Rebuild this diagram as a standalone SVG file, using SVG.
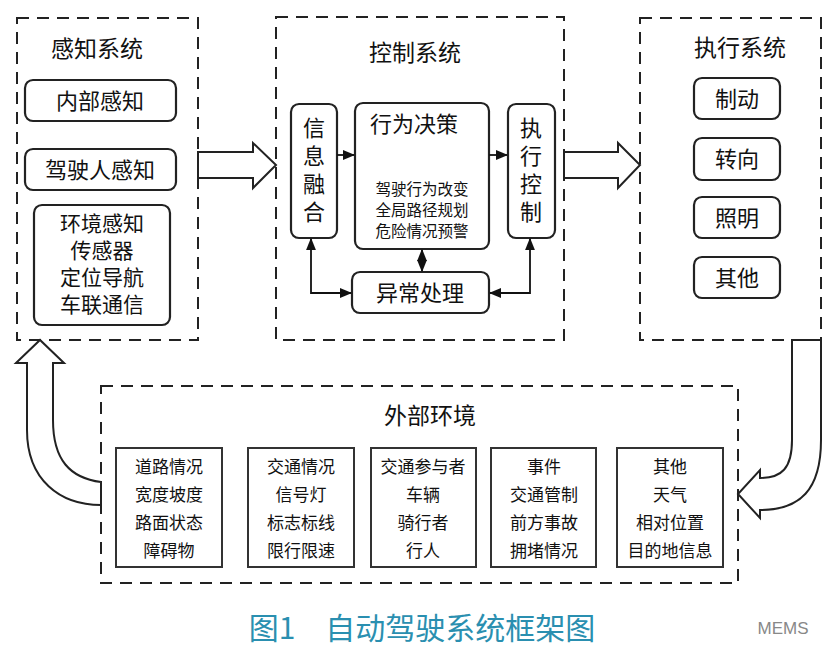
<svg xmlns="http://www.w3.org/2000/svg" width="836" height="659" viewBox="0 0 836 659">
<defs>
<marker id="ah" viewBox="0 0 10 10" refX="9" refY="5" markerWidth="7" markerHeight="7" orient="auto-start-reverse"><path d="M0,1 L10,5 L0,9 z" fill="#111"/></marker>
<style>
.dash{fill:none;stroke:#222;stroke-width:2;stroke-dasharray:12,8}
.rb{fill:#fff;stroke:#222;stroke-width:2.2}
.sb{fill:#fff;stroke:#333;stroke-width:2}
text{font-family:"Noto Sans CJK SC",sans-serif;fill:#111;text-anchor:middle}
.t{font-size:23px}
.n{font-size:22px}
.m{font-size:21px}
.s{font-size:15.5px}
.e{font-size:17px}
.ln{fill:none;stroke:#111;stroke-width:1.8}
.big{fill:#fff;stroke:#222;stroke-width:2}
</style>
</defs>
<rect width="836" height="659" fill="#fff"/>
<g id="perception">
<rect class="dash" x="17" y="18" width="181" height="322"/>
<text class="t" x="97" y="57">感知系统</text>
<g id="n-internal"><rect class="rb" x="25" y="80" width="151" height="41" rx="8"/><text class="n" x="100" y="109">内部感知</text></g>
<g id="n-driver"><rect class="rb" x="25" y="149" width="151" height="41" rx="8"/><text class="n" x="100" y="178">驾驶人感知</text></g>
<g id="n-env"><rect class="rb" x="34" y="205" width="136" height="120" rx="8"/>
<text class="m" x="102" y="231">环境感知</text><text class="m" x="102" y="258">传感器</text><text class="m" x="102" y="285">定位导航</text><text class="m" x="102" y="312">车联通信</text></g>
</g>
<g id="control">
<rect class="dash" x="276" y="17" width="288" height="323"/>
<text class="t" x="415" y="61">控制系统</text>
<g id="n-fusion"><rect class="rb" x="291" y="104" width="46" height="134" rx="8"/>
<text class="n" x="314" y="136">信</text><text class="n" x="314" y="164">息</text><text class="n" x="314" y="192">融</text><text class="n" x="314" y="220">合</text></g>
<g id="n-decision"><rect class="rb" x="355" y="103" width="134" height="146" rx="8"/>
<text class="n" x="414" y="132">行为决策</text>
<text class="s" x="422" y="195">驾驶行为改变</text><text class="s" x="422" y="216">全局路径规划</text><text class="s" x="422" y="237">危险情况预警</text></g>
<g id="n-exec"><rect class="rb" x="508" y="104" width="47" height="134" rx="8"/>
<text class="n" x="531" y="136">执</text><text class="n" x="531" y="164">行</text><text class="n" x="531" y="192">控</text><text class="n" x="531" y="220">制</text></g>
<g id="n-exception"><rect class="rb" x="352" y="272" width="137" height="41" rx="8"/><text class="n" x="420" y="301">异常处理</text></g>
</g>
<g id="execution">
<rect class="dash" x="640" y="18" width="181" height="322"/>
<text class="t" x="740" y="56">执行系统</text>
<g id="n-brake"><rect class="rb" x="694" y="78" width="86" height="41" rx="8"/><text class="n" x="737" y="107">制动</text></g>
<g id="n-steer"><rect class="rb" x="694" y="138" width="86" height="42" rx="8"/><text class="n" x="737" y="167">转向</text></g>
<g id="n-light"><rect class="rb" x="694" y="197" width="86" height="41" rx="8"/><text class="n" x="737" y="226">照明</text></g>
<g id="n-other"><rect class="rb" x="694" y="257" width="86" height="41" rx="8"/><text class="n" x="737" y="286">其他</text></g>
</g>
<g id="environment">
<rect class="dash" x="101" y="386" width="637" height="197"/>
<text class="t" x="430" y="424">外部环境</text>
<g id="e1"><rect class="sb" x="116" y="448" width="106" height="119"/><text class="e" x="169" y="473">道路情况</text><text class="e" x="169" y="501">宽度坡度</text><text class="e" x="169" y="529">路面状态</text><text class="e" x="169" y="557">障碍物</text></g>
<g id="e2"><rect class="sb" x="248" y="448" width="106" height="119"/><text class="e" x="301" y="473">交通情况</text><text class="e" x="301" y="501">信号灯</text><text class="e" x="301" y="529">标志标线</text><text class="e" x="301" y="557">限行限速</text></g>
<g id="e3"><rect class="sb" x="371" y="448" width="105" height="119"/><text class="e" x="423" y="473">交通参与者</text><text class="e" x="423" y="501">车辆</text><text class="e" x="423" y="529">骑行者</text><text class="e" x="423" y="557">行人</text></g>
<g id="e4"><rect class="sb" x="491" y="448" width="105" height="119"/><text class="e" x="544" y="473">事件</text><text class="e" x="544" y="501">交通管制</text><text class="e" x="544" y="529">前方事故</text><text class="e" x="544" y="557">拥堵情况</text></g>
<g id="e5"><rect class="sb" x="617" y="448" width="106" height="119"/><text class="e" x="670" y="473">其他</text><text class="e" x="670" y="501">天气</text><text class="e" x="670" y="529">相对位置</text><text class="e" x="670" y="557">目的地信息</text></g>
</g>
<g id="connectors">
<path class="big" d="M198,152 H253 V143 L276,165 L253,188 V178 H198 Z"/>
<path class="big" d="M564,152 H618 V143 L640,165 L618,188 V178 H564 Z"/>
<line class="ln" x1="337" y1="155" x2="354" y2="155" marker-end="url(#ah)"/>
<line class="ln" x1="489" y1="155" x2="507" y2="155" marker-end="url(#ah)"/>
<line class="ln" x1="422" y1="250" x2="422" y2="271" marker-start="url(#ah)" marker-end="url(#ah)"/>
<path class="ln" d="M311,239 V293 H351" marker-start="url(#ah)" marker-end="url(#ah)"/>
<path class="ln" d="M530,239 V293 H490" marker-start="url(#ah)" marker-end="url(#ah)"/>
<path class="big" d="M101,482 C70,478 53,460 53,420 V363 H64 L40,340 L16,363 H27 V430 C27,480 60,505 101,505 Z"/>
<path class="big" d="M792,340 V440 C792,468 782,478 760,478 V470 L738,494 L760,518 V510 C800,510 821,490 821,440 V340 Z"/>
</g>
<text x="422" y="639" style="font-size:30px;fill:#2a8fb0" xml:space="preserve">图1　自动驾驶系统框架图</text>
<text x="783" y="634" style="font-size:17px;fill:#888;font-family:'Liberation Sans',sans-serif">MEMS</text>
</svg>
